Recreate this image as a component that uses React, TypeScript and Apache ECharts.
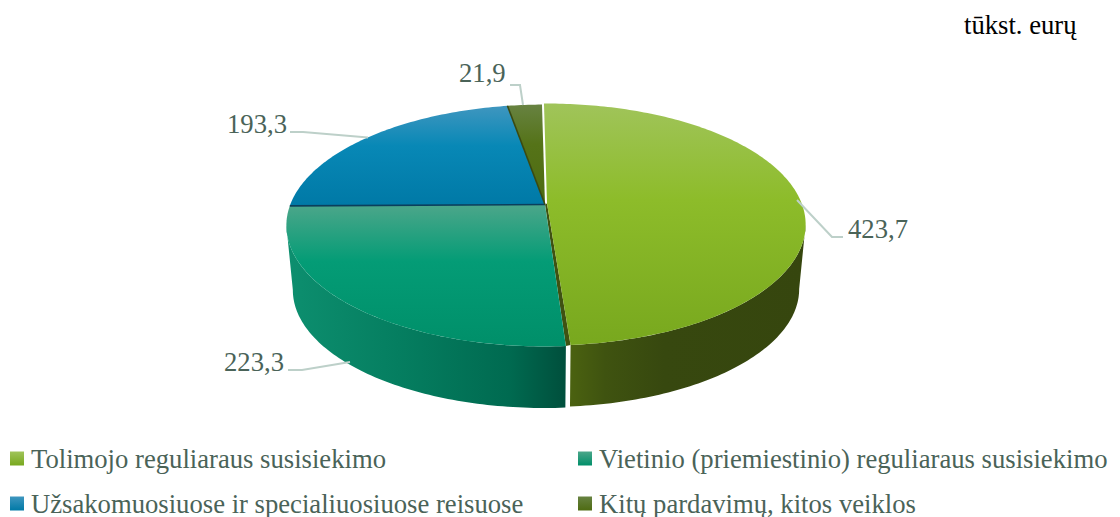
import React, { useEffect, useRef } from "react";
import * as echarts from "echarts";

const categories = [
  "Tolimojo reguliaraus susisiekimo",
  "Vietinio (priemiestinio) reguliaraus susisiekimo",
  "Užsakomuosiuose ir specialiuosiuose reisuose",
  "Kitų pardavimų, kitos veiklos",
];
const values = [423.7, 223.3, 193.3, 21.9];
const unitLabel = "tūkst. eurų";

const FONT = '"Liberation Serif", "Times New Roman", serif';
const TEXT = "#4A6358";
const START = -0.8;
const VIEW = { cx: 545, cy: 204.5, cyLow: 269.6, w: 254.7, h: 117.3, k: 0.1736, s: 0.975 };
const OFFSETS = [[2, -1], [0, 0], [0, 0], [0, 0]];
const TRIM = [0.5, 0, 0, 0]; // degrees left open at a slice's end, where its cut face shows
const SILHOUETTE = 180 - (Math.acos(VIEW.k) * 180) / Math.PI; // angle of the widest rim point

const topStops = [
  ["#A0C45A", "#8DBC2A", "#78A81E"],
  ["#4CA68A", "#049C76", "#008F69"],
  ["#3F96BF", "#0888B6", "#0079A6"],
  ["#678241", "#557318", "#4E6B12"],
];
const wallStops = [
  [[0, "#4B6210"], [0.15, "#3F5310"], [0.4, "#37480F"], [1, "#36460E"]],
  [[0, "#0D8F6F"], [0.4, "#057E60"], [0.8, "#006A50"], [1, "#004F3C"]],
];
const edgeColors = ["#3F5212", "#3F5212", "#0B3F5C", "#3A4A12"];

const total = values.reduce((a, b) => a + b, 0);
const sweeps = values.map((v) => (v / total) * 360);
const starts = sweeps.map((_, i) => START + sweeps.slice(0, i).reduce((a, b) => a + b, 0));
const ends = sweeps.map((s, i) => starts[i] + s - TRIM[i]);

function project(deg: number, low: boolean, i: number) {
  const t = (deg * Math.PI) / 180;
  const u = Math.sin(t);
  const v = -Math.cos(t);
  const sc = low ? VIEW.s : 1;
  const d = 1 - VIEW.k * v;
  return [
    VIEW.cx + OFFSETS[i][0] + (sc * VIEW.w * u) / d,
    (low ? VIEW.cyLow : VIEW.cy) + OFFSETS[i][1] + (sc * VIEW.h * v) / d,
  ];
}
function arc(a: number, b: number, low: boolean, i: number) {
  const out: number[][] = [];
  const n = Math.max(2, Math.ceil(Math.abs(b - a)));
  for (let j = 0; j <= n; j++) out.push(project(a + ((b - a) * j) / n, low, i));
  return out;
}
function vGrad(c: string[]) {
  return new echarts.graphic.LinearGradient(0, 0, 0, 1, [
    { offset: 0, color: c[0] },
    { offset: 0.4, color: c[1] },
    { offset: 1, color: c[2] },
  ]);
}

function wallItem() {
  const children: any[] = [];
  [0, 1].forEach((i) => {
    // only the part of the rim between the silhouette points faces the viewer
    const a = Math.max(starts[i], SILHOUETTE);
    const b = Math.min(ends[i], 360 - SILHOUETTE);
    const top = arc(a, b, false, i);
    const low = arc(a, b, true, i).reverse();
    children.push({
      type: "polygon",
      shape: { points: top.concat(low) },
      style: {
        fill: new echarts.graphic.LinearGradient(
          0, 0, 1, 0,
          wallStops[i].map(([offset, color]) => ({ offset: offset as number, color: color as string }))
        ),
      },
    });
  });
  // cut face of the first slice, seen between the two front slices
  children.push({
    type: "polygon",
    shape: {
      points: [
        [VIEW.cx, VIEW.cy],
        [VIEW.cx + OFFSETS[0][0], VIEW.cy + OFFSETS[0][1]],
        project(ends[0], false, 0),
        project(starts[1], false, 1),
      ],
    },
    style: { fill: edgeColors[0] },
  });
  return { type: "group", children };
}

function sliceItem(i: number) {
  return () => {
    const a = starts[i];
    const vertex = [VIEW.cx + OFFSETS[i][0], VIEW.cy + OFFSETS[i][1]];
    const children: any[] = [
      {
        type: "polygon",
        shape: { points: [vertex, ...arc(a, ends[i], false, i)] },
        style: { fill: vGrad(topStops[i]) },
      },
    ];
    if (i >= 2) {
      children.push({
        type: "polyline",
        shape: { points: [project(a, false, i), vertex] },
        style: { stroke: edgeColors[i], lineWidth: 1.6, fill: "none" },
      });
    }
    return { type: "group", children };
  };
}

const fmt = (v: number) => String(v).replace(".", ",");

const App = () => {
  const ref = useRef<HTMLDivElement>(null);
  useEffect(() => {
    const chart = echarts.init(ref.current!, undefined, { renderer: "svg" });
    const legendAt = [[10, 445], [578, 445], [10, 490], [578, 490]];
    const leaders = [
      [[797, 200], [832, 237], [843, 237]],
      [[350, 362], [302, 370], [288, 370]],
      [[368, 137.5], [303, 132], [290, 132]],
      [[523, 105], [520, 85], [510, 85]],
    ];
    const labelPos: any[] = [
      [848, 229],
      [224, 362],
      [227, 124],
      [459, 73],
    ];
    chart.setOption({
      animation: false,
      backgroundColor: "#fff",
      legend: categories.map((name, i) => ({
        left: legendAt[i][0],
        top: legendAt[i][1],
        padding: 0,
        selectedMode: false,
        icon: "rect",
        itemWidth: 14,
        itemHeight: 14,
        data: [
          {
            name,
            itemStyle: {
              color: new echarts.graphic.LinearGradient(0, 0, 0, 1, [
                { offset: 0, color: topStops[i][0] },
                { offset: 1, color: topStops[i][2] },
              ]),
            },
          },
        ],
        textStyle: { fontFamily: FONT, fontSize: 26.67, color: TEXT, padding: [0, 0, 0, 2] },
      })),
      graphic: [
        ...leaders.map((points) => ({
          type: "polyline",
          z: 20,
          shape: { points },
          style: { stroke: "#BDD0C9", lineWidth: 2, fill: "none" },
        })),
        ...values.map((v, i) => ({
          type: "text",
          z: 21,
          x: labelPos[i][0],
          y: labelPos[i][1],
          style: {
            text: fmt(v),
            fontFamily: FONT,
            fontSize: 26.67,
            fill: TEXT,
            verticalAlign: "middle",
            align: "left",
          },
        })),
        {
          type: "text",
          z: 21,
          x: 964,
          y: 25,
          style: { text: unitLabel, fontFamily: FONT, fontSize: 26.67, fill: "#000", verticalAlign: "middle" },
        },
      ],
      series: [
        {
          type: "custom",
          name: "walls",
          coordinateSystem: "none",
          z: 1,
          silent: true,
          data: [[total]],
          renderItem: wallItem,
        },
        ...categories.map((name, i) => ({
          type: "custom",
          name,
          coordinateSystem: "none",
          z: 2 + i,
          silent: true,
          data: [[values[i]]],
          renderItem: sliceItem(i),
        })),
      ],
    });
    return () => chart.dispose();
  }, []);
  return <div ref={ref} style={{ position: "fixed", left: 0, top: 0, width: 1120, height: 517 }} />;
};

export default App;
